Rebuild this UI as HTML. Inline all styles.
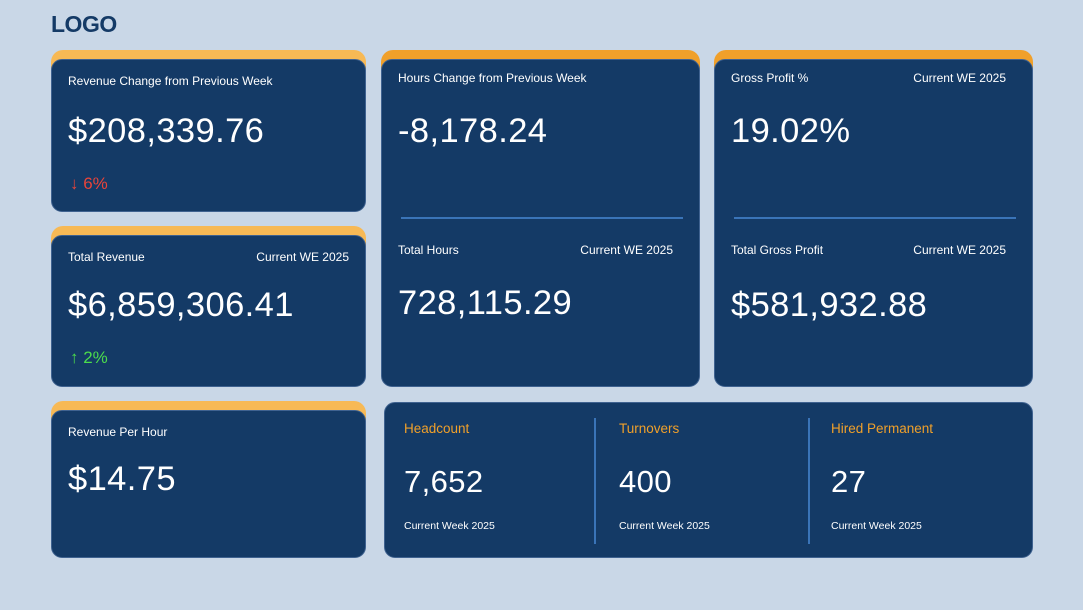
<!DOCTYPE html>
<html><head><meta charset="utf-8"><style>
body{margin:0;width:1083px;height:610px;background:#c9d7e7;font-family:"Liberation Sans",sans-serif;position:relative;overflow:hidden}
.a{position:absolute}
.y{position:absolute;border-radius:12px;background:#f0a02a}
.y.l{background:#f7b955}
.c{position:absolute;background:#143a66;border-radius:11px;border:1px solid #3f6290;box-sizing:border-box;color:#fff}
.lb{position:absolute;font-size:12px;color:#fff}
.big{position:absolute;font-size:34.5px;color:#fff;letter-spacing:0.4px}
.hr{position:absolute;height:2px;background:#3a74b8}
.vr{position:absolute;width:2px;background:#3a74b8}
.or{position:absolute;font-size:13.5px;color:#f0a02a}
.sm{position:absolute;font-size:10.5px;color:#fff}
</style></head><body>
<div class="a" style="left:51px;top:11px;font-size:23px;font-weight:bold;color:#143a66;letter-spacing:-0.5px">LOGO</div>

<div class="y l" style="left:51px;top:50px;width:315px;height:40px"></div>
<div class="c" style="left:51px;top:59px;width:315px;height:153px">
<div class="lb" style="left:16px;top:14px">Revenue Change from Previous Week</div>
<div class="big" style="left:16px;top:52px">$208,339.76</div>
<div class="a" style="left:18px;top:114px;font-size:17px;color:#e8443a">↓ 6%</div>
</div>

<div class="y l" style="left:51px;top:226px;width:315px;height:40px"></div>
<div class="c" style="left:51px;top:235px;width:315px;height:152px">
<div class="lb" style="left:16px;top:14px">Total Revenue</div>
<div class="lb" style="right:16px;top:14px">Current WE 2025</div>
<div class="big" style="left:16px;top:50px">$6,859,306.41</div>
<div class="a" style="left:18px;top:112px;font-size:17px;color:#4cdc4c">↑ 2%</div>
</div>

<div class="y l" style="left:51px;top:401px;width:315px;height:40px"></div>
<div class="c" style="left:51px;top:410px;width:315px;height:148px">
<div class="lb" style="left:16px;top:14px">Revenue Per Hour</div>
<div class="big" style="left:16px;top:49px">$14.75</div>
</div>

<div class="y" style="left:381px;top:50px;width:319px;height:40px"></div>
<div class="c" style="left:381px;top:59px;width:319px;height:328px">
<div class="lb" style="left:16px;top:11px">Hours Change from Previous Week</div>
<div class="big" style="left:16px;top:52px">-8,178.24</div>
<div class="hr" style="left:19px;top:157px;width:282px"></div>
<div class="lb" style="left:16px;top:183px">Total Hours</div>
<div class="lb" style="right:26px;top:183px">Current WE 2025</div>
<div class="big" style="left:16px;top:224px">728,115.29</div>
</div>

<div class="y" style="left:714px;top:50px;width:319px;height:40px"></div>
<div class="c" style="left:714px;top:59px;width:319px;height:328px">
<div class="lb" style="left:16px;top:11px">Gross Profit %</div>
<div class="lb" style="right:26px;top:11px">Current WE 2025</div>
<div class="big" style="left:16px;top:52px">19.02%</div>
<div class="hr" style="left:19px;top:157px;width:282px"></div>
<div class="lb" style="left:16px;top:183px">Total Gross Profit</div>
<div class="lb" style="right:26px;top:183px">Current WE 2025</div>
<div class="big" style="left:16px;top:226px">$581,932.88</div>
</div>

<div class="c" style="left:384px;top:402px;width:649px;height:156px">
<div class="or" style="left:19px;top:18px">Headcount</div>
<div class="big" style="left:19px;top:61px;font-size:31px">7,652</div>
<div class="sm" style="left:19px;top:117px">Current Week 2025</div>
<div class="vr" style="left:209px;top:15px;height:126px"></div>
<div class="or" style="left:234px;top:18px">Turnovers</div>
<div class="big" style="left:234px;top:61px;font-size:31px">400</div>
<div class="sm" style="left:234px;top:117px">Current Week 2025</div>
<div class="vr" style="left:423px;top:15px;height:126px"></div>
<div class="or" style="left:446px;top:18px">Hired Permanent</div>
<div class="big" style="left:446px;top:61px;font-size:31px">27</div>
<div class="sm" style="left:446px;top:117px">Current Week 2025</div>
</div>
</body></html>
